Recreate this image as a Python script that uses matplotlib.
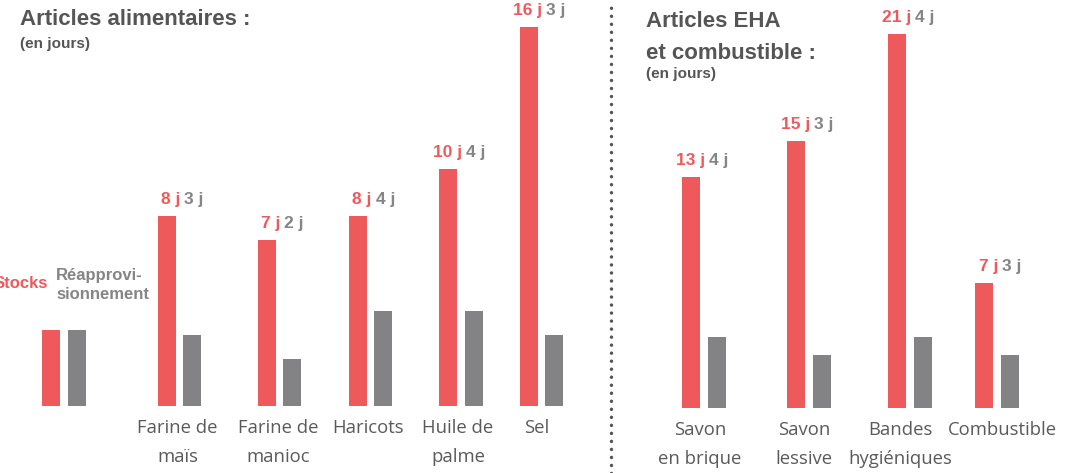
import matplotlib
matplotlib.use("Agg")
import matplotlib.pyplot as plt
from matplotlib.lines import Line2D

# ---------------- data ----------------
food_cats = ["Farine de\nmaïs", "Farine de\nmanioc", "Haricots", "Huile de\npalme", "Sel"]
food_stock = [8, 7, 8, 10, 16]
food_resupply = [3, 2, 4, 4, 3]

eha_cats = ["Savon\nen brique", "Savon\nlessive", "Bandes\nhygiéniques", "Combustible"]
eha_stock = [13, 15, 21, 7]
eha_resupply = [4, 3, 4, 3]

legend_value = 3.2  # illustrative legend bars
legend_stock_label = "Stocks"
legend_resupply_label = "Réapprovi-\nsionnement"

title_food = "Articles alimentaires :"
title_eha = "Articles EHA\net combustible :"
unit_note = "(en jours)"

# ---------------- layout / style ----------------
W, H = 1080, 473
RED = "#EE5A5B"
GREY = "#838385"
TXT_GREY = "#858585"
DARK = "#555555"
LABEL = "#5a5a5a"

food_pos = [179.5, 279.5, 370.5, 461, 541.5]
food_label_pos = [177.5, 278, 368, 458, 537]
legend_pos = 64
eha_pos = [704, 809, 910, 997]
eha_label_pos = [700, 804, 900, 1002]
half_gap = 12.8
bar_w = 18

HEAD_FONT = ["Liberation Sans", "DejaVu Sans"]
VAL_FONT = ["Liberation Sans", "DejaVu Sans"]
CAT_FONT = ["Open Sans", "DejaVu Sans"]

fig = plt.figure(figsize=(W / 100, H / 100), dpi=100)

# left axes: baseline at y=406 px, 23.7 px per day
base_l = 406
ax_l = fig.add_axes([0, (H - base_l) / H, 600 / W, base_l / H])
ax_l.set_xlim(0, 600)
ax_l.set_ylim(0, base_l / 23.7)

# right axes: baseline at y=408 px, 17.8 px per day
base_r = 408
ax_r = fig.add_axes([600 / W, (H - base_r) / H, 480 / W, base_r / H])
ax_r.set_xlim(600, 1080)
ax_r.set_ylim(0, base_r / 17.8)

for ax in (ax_l, ax_r):
    ax.axis("off")
    ax.patch.set_alpha(0)


def draw_group(ax, positions, label_pos, cats, stock, resup, label_dy):
    ax.bar([p - half_gap for p in positions], stock, width=bar_w, color=RED)
    ax.bar([p + half_gap for p in positions], resup, width=bar_w, color=GREY)
    for p, lp, c, s, r in zip(positions, label_pos, cats, stock, resup):
        ax.annotate(f"{s} j", (p + 1, s), xytext=(0, 12), textcoords="offset pixels",
                    ha="right", va="baseline", color=RED, fontsize=12.5,
                    fontweight="bold", family=VAL_FONT)
        ax.annotate(f"{r} j", (p + 5, s), xytext=(0, 12), textcoords="offset pixels",
                    ha="left", va="baseline", color=TXT_GREY, fontsize=12.5,
                    fontweight="bold", family=VAL_FONT)
        ax.annotate(c, (lp, 0), xytext=(0, label_dy), textcoords="offset pixels",
                    ha="center", va="top", color=LABEL, fontsize=13.3,
                    family=CAT_FONT, linespacing=1.75)


draw_group(ax_l, food_pos, food_label_pos, food_cats, food_stock, food_resupply, -13)
draw_group(ax_r, eha_pos, eha_label_pos, eha_cats, eha_stock, eha_resupply, -13)

# legend bars
ax_l.bar([legend_pos - half_gap], [legend_value], width=bar_w, color=RED)
ax_l.bar([legend_pos + half_gap], [legend_value], width=bar_w, color=GREY)
fig.text(48 / W, 1 - 283 / H, legend_stock_label, ha="right", va="center",
         color=RED, fontsize=12, fontweight="bold", family=HEAD_FONT)
fig.text(56 / W, 1 - 285 / H, legend_resupply_label, ha="left", va="center",
         color=TXT_GREY, fontsize=12, fontweight="bold", family=HEAD_FONT,
         linespacing=1.3)

# titles
fig.text(20 / W, 1 - 9 / H, title_food, ha="left", va="top", color=DARK,
         fontsize=16, fontweight="bold", family=HEAD_FONT)
fig.text(20 / W, 1 - 37 / H, unit_note, ha="left", va="top", color=DARK,
         fontsize=11, fontweight="bold", family=HEAD_FONT)
fig.text(646 / W, 1 - 11 / H, title_eha, ha="left", va="top", color=DARK,
         fontsize=16, fontweight="bold", family=HEAD_FONT, linespacing=1.7)
fig.text(646 / W, 1 - 67 / H, unit_note, ha="left", va="top", color=DARK,
         fontsize=11, fontweight="bold", family=HEAD_FONT)

# dotted separator
sep = Line2D([611 / W, 611 / W], [0, 1], transform=fig.transFigure, color=DARK,
             lw=2.5, linestyle=(0, (0.01, 2.3)), dash_capstyle="round")
fig.add_artist(sep)

fig.savefig("out.png", dpi=100, facecolor="white")
